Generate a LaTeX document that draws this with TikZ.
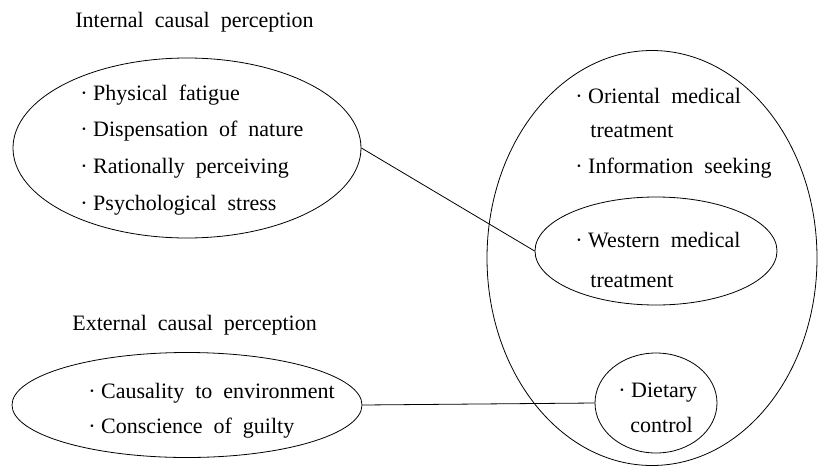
\documentclass[tikz,border=0pt]{standalone}
\usepackage{fontspec}
\setmainfont{Liberation Serif}[WordSpace=2]
\usetikzlibrary{shapes.geometric}
\newcommand{\bul}{·\kern2.75pt}
\tikzset{
	oval/.style={draw,ellipse,inner sep=0pt},
	item/.style={anchor=base west,inner sep=0pt,font=\fontsize{11}{12}\selectfont},
	head/.style={item}
}
\begin{document}
\begin{tikzpicture}[x=0.5pt,y=-0.5pt]
	\useasboundingbox (0,0) rectangle (818,466);
	% headings
	\node[head] (inhead) at (75,27) {Internal causal perception};
	\node[head] (exhead) at (72,330) {External causal perception};
	
	% ovals
	\node[oval,minimum width=174pt,minimum height=90pt] (intl) at (187,148) {};
	\node[oval,minimum width=175pt,minimum height=52.5pt] (extl) at (187,405) {};
	\node[oval,minimum width=165pt,minimum height=207.5pt] (coping) at (652,258) {};
	\node[oval,minimum width=121pt,minimum height=54pt] (western) at (656,251) {};
	\node[oval,minimum width=61pt,minimum height=50pt] (diet) at (656,403) {};
	
	% items
	\foreach \t [count=\i] in {Physical fatigue,Dispensation of nature,Rationally perceiving,Psychological stress}
	\node[item] (in\i) at (80,{100+36.7*(\i-1)}) {\bul\t};
	\foreach \t [count=\i] in {Causality to environment,Conscience of guilty}
	\node[item] (ex\i) at (88,{398+35*(\i-1)}) {\bul\t};
	\node[item] (orient) at (575,103) {\bul Oriental medical};
	\node[item] (orient2) at (590,137) {treatment};
	\node[item] (info) at (575,173) {\bul Information seeking};
	\node[item] (west1) at (575,247) {\bul Western medical};
	\node[item] (west2) at (590,287) {treatment};
	\node[item] (diet1) at (618,397) {\bul Dietary};
	\node[item] (diet2) at (630,432) {control};
	
	% links
	\draw (intl.east) -- (western.west);
	\draw (extl.east) -- (diet.west);
\end{tikzpicture}
\end{document}
